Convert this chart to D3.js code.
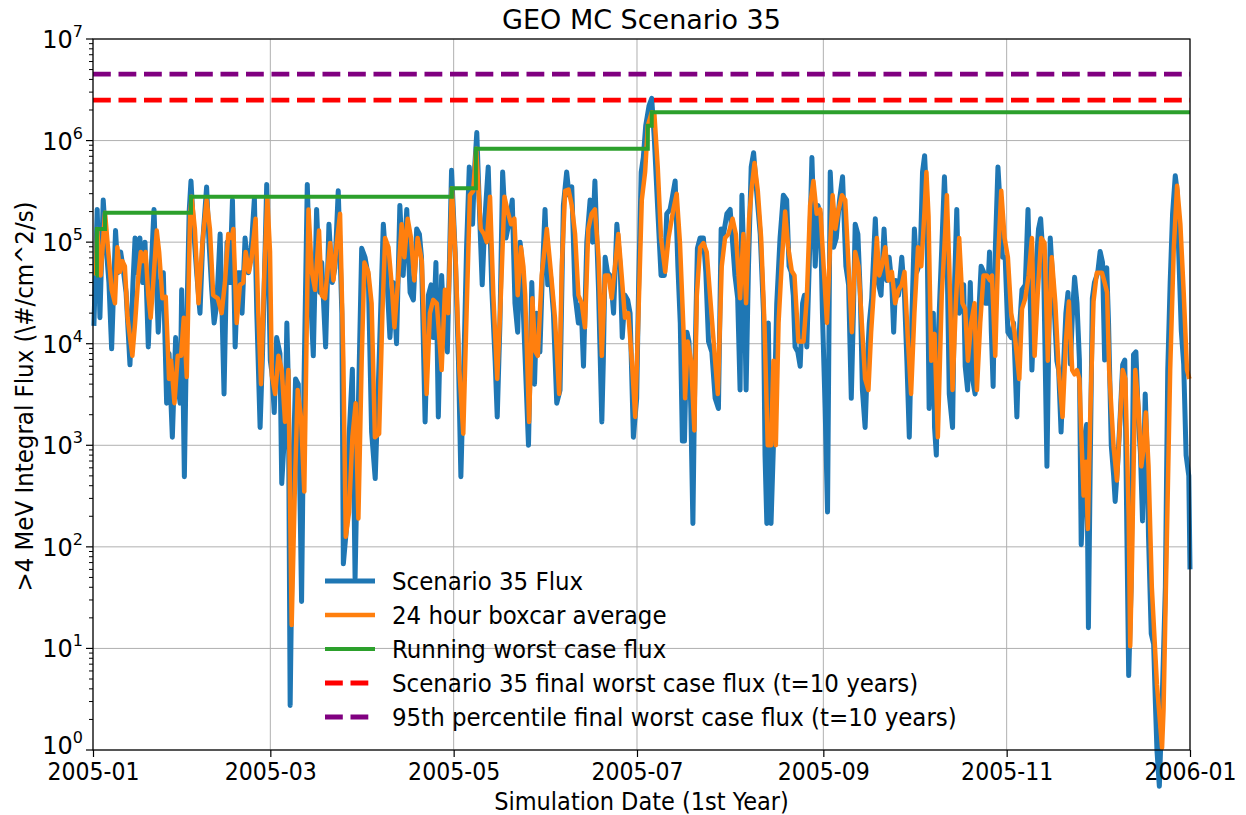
<!DOCTYPE html>
<html>
<head>
<meta charset="utf-8">
<script src="https://cdn.jsdelivr.net/npm/d3@7"></script>
<style>
  html, body { margin: 0; padding: 0; background: #fff; }
  svg { display: block; }
  .lbl { font-family: 'DejaVu Sans Condensed', 'DejaVu Sans', sans-serif; font-stretch: condensed; fill: #000; }
</style>
</head>
<body>
<svg id="chart" width="1246" height="815"></svg>
<script>
// ---------------- DATA ----------------
const titleText = "GEO MC Scenario 35";
const xLabel = "Simulation Date (1st Year)";
const yLabel = ">4 MeV Integral Flux (\\#/cm^2/s)";
const xTickLabels = ["2005-01", "2005-03", "2005-05", "2005-07", "2005-09", "2005-11", "2006-01"];
const yTickExponents = [0, 1, 2, 3, 4, 5, 6, 7];
const seriesNames = ["Scenario 35 Flux", "24 hour boxcar average", "Running worst case flux",
  "Scenario 35 final worst case flux (t=10 years)", "95th percentile final worst case flux (t=10 years)"];

// days since 2005-01-01
const blueDay = [0.3,1.4,2.3,3.4,4.5,5.3,6.2,7.5,8.3,9.2,10,11,12.3,13.3,14,14.8,15.6,16.5,17.3,18.4,19.3,20.3,21,21.7,22.5,23.4,24.5,25.3,26.4,27.5,28.2,29,29.5,30.4,31.2,32,32.6,33.5,34.5,35.6,36.5,37.8,38.6,39.5,40.3,41.2,42.3,43.6,44.6,45.5,46.4,47.3,48.2,49,49.6,50.6,51.7,52.8,53.7,54.5,55.6,56.4,57.8,59,59.6,60.3,61.1,62.2,62.8,63.9,64.5,65,65.6,66.6,67.4,68.3,69.4,70.2,71.3,72.2,73.3,74.4,75.5,76.1,77.4,78.5,79.6,80.5,81.6,82.8,83.3,84.4,85.2,86.3,87.2,88.3,89.4,90.5,91.6,92.7,93.9,95.2,96.6,97.6,98.8,99.9,101,102.1,103.2,104.4,105.5,106.6,107.7,108.6,109.3,110.5,111.6,112.5,113.2,114.1,114.9,116,116.8,117.9,119.3,120.5,121.6,122.4,123.6,124.3,125.2,126.3,126.9,127.7,128.8,129.5,130.4,131.5,132.7,133.8,134.5,135.4,136.3,137.4,138.5,139.5,140.4,141.3,142.1,142.6,143.2,144.9,146,146.9,147.6,148.7,149.5,150.4,151.3,152.1,153.2,154.3,155.4,156.5,157.6,158.4,159.3,160.4,161.5,162.4,163.2,164.3,165.4,166.2,167,168.2,169.3,169.8,170.4,171.2,172,172.6,173.2,174.3,175.4,176.1,177,177.9,178.7,179.8,180.9,181.5,182.4,183.1,183.9,185,185.9,186.8,187.9,189,190.1,190.9,192,192.6,193.7,194.6,195.4,196.1,196.8,197.6,198.3,198.9,199.6,200.3,201.1,202,203.1,203.9,204.8,205.9,207,208.1,209,209.8,210.9,212,212.7,213.6,214.5,215.3,215.9,216.6,217.3,218.1,219,219.8,220.9,222,223.1,223.6,224.2,224.7,225.6,226.4,227.5,228.6,229.7,230.8,231.6,232.3,233,233.6,234.5,235.3,236.1,236.7,237.5,238.3,239.2,240.3,241.2,242,242.7,243.6,244.4,245.3,246.4,247.3,248.4,249.4,250.5,251.4,252.3,253,253.6,254.5,255.3,256,256.9,257.8,258.3,259.1,260.3,261.1,262.2,263.2,264.1,264.9,265.8,266.4,267.1,268,269.1,270,270.8,271.6,272.5,273.3,274.1,275.2,276,276.7,277.4,278.2,279,279.6,280,280.6,281.3,282.4,283.3,284.1,284.9,286,286.7,287.4,288.2,288.9,289.7,290.2,291,291.9,292.7,293.5,294.4,295.5,296.3,296.9,297.5,298.3,298.9,299.5,300.2,301.1,301.9,302.6,303.5,304.4,305.5,306.3,307.4,308.2,309.1,310.2,311.1,311.8,312.4,313.5,314.6,315.3,316.3,317.4,318.5,319.6,320.7,321.3,322.1,323,323.7,324.4,325.2,325.9,326.6,327.4,328.2,328.8,329.5,330.1,330.6,331.2,331.8,332.5,333.2,334.3,335.1,335.9,336.6,337.3,337.9,338.8,339.6,340.1,340.9,341.8,342.6,343.3,344,344.6,345.4,346.2,347,347.9,348.5,349.2,350.1,350.7,351.2,352.1,352.9,353.5,354,354.8,355.7,356.8,357.6,358.4,359.2,360.1,360.7,361.2,362.1,362.9,363.7,364.6,365];
const blueFlux = [1.5e4,2.1e5,1.8e4,2.6e5,8e4,4e4,8.9e3,1.3e5,5e4,8e4,5.6e4,3.2e4,6.2e3,4e4,1.1e5,5e4,1.1e5,4e4,1e5,9.3e3,5e4,2.1e5,5e4,1.3e4,4e4,5e4,2.6e3,8e3,1.2e3,1.15e4,4e3,2.6e3,3.4e4,490,1.6e4,2e5,4e5,1.3e5,5e4,2e4,1e5,3.5e5,1e5,3.4e4,1.6e4,2.5e4,1.2e5,3.2e3,1e5,4e4,2.6e5,9.3e3,5e4,5e4,2e4,1.1e5,5e4,1e5,2.7e5,2e4,1.5e3,8e3,3.7e5,6.8e3,5e3,2.1e3,1.15e4,8e3,420,1.6e3,1.6e4,4e3,2.75,630,4.5e3,4e3,29,4e3,3.7e5,4e4,7.6e3,2.1e5,3.2e4,6.3e4,9.3e3,1.5e5,4e4,5.6e4,3.2e5,2e4,68,160,1.2e3,5.6e3,49,2.5e3,8.7e4,7.1e4,4.6e4,1.35e3,470,6.8e3,1.5e5,5.6e4,1.15e4,4e4,1e4,2.3e5,4.7e4,2.1e5,3.2e4,2.7e4,1.35e5,1.2e5,7.1e4,1.7e3,3e4,3.8e4,1.15e4,6.3e4,1.9e3,4.7e4,1.3e4,8.3e3,5.1e5,8e4,6.8e3,490,1.15e4,8.9e4,5.5e5,1.5e5,4.9e5,1.2e6,1.35e5,3.8e4,1.7e5,5.5e5,3.4e4,6.8e3,1.9e3,1.6e4,4.9e5,1.1e5,1.6e5,2.6e5,2.5e4,1.3e4,1e5,7.1e4,2e4,1e3,4e4,4e3,2e4,8.3e3,4.7e4,2.1e5,3.8e4,5.2e4,2e4,2.6e3,3.5e3,2.3e5,4.9e5,2.9e5,3.5e5,3e4,1.6e4,2.5e4,6e3,1e5,2.6e5,1e5,4e5,3.4e4,1.7e3,6.8e3,7.1e4,5e4,4.7e4,3.4e4,2e4,1.5e5,5.8e4,1.15e4,3e4,2.7e4,2e4,1.2e3,2.9e3,3.2e4,4.9e5,6.8e5,1.4e6,2.2e6,2.6e6,1e6,2.1e5,4.7e4,4.7e4,1.9e5,2.1e5,2.6e5,4e5,5.8e4,1.6e4,1.1e3,1.1e3,1.3e4,1.05e4,2.3e3,170,6.8e3,8.7e4,1.1e5,1.1e5,5.1e4,1.05e4,8.3e3,2.9e3,2.3e3,1.35e5,1.2e5,1.9e5,2.1e5,1.1e5,4.7e4,2.8e4,3.5e3,2.9e5,5.8e4,3.5e3,5.8e4,5.5e5,7.6e5,2.9e5,1.2e5,2e4,800,170,1.6e4,170,1e3,2.5e4,1.1e5,2.9e5,2.6e5,5.8e4,5.1e4,3e4,9.3e3,8.3e3,6e3,2.5e4,3e4,9.3e3,5.8e4,6.8e5,5.8e4,2.3e5,1.9e5,2e4,2.3e3,220,4.9e5,8.9e4,1.1e5,2.6e5,4.4e5,5.8e4,3.8e4,2.9e3,2e4,1.5e5,1.2e5,3e4,3.5e3,1.5e3,8.3e3,1.6e4,2.8e4,1.7e5,4.2e4,3e4,1.35e5,4.2e4,7.1e4,3.8e4,1.3e4,4.2e4,3e4,7.1e4,3e4,6.8e3,1.2e3,2e4,1.35e5,5.1e4,6.3e4,4.9e5,7.1e5,2.6e5,2.3e3,6.8e3,2e4,1.5e3,800,1.3e4,8.7e4,4.4e5,9.8e4,3.2e3,1.5e3,4.2e4,2.1e5,2e4,2.5e4,3.8e4,6e3,3.5e3,4e4,4.4e3,3.2e3,1.3e4,5.8e4,5.1e4,2.5e4,2.5e4,8e4,1.3e4,3.8e3,8e4,5.5e5,2.1e5,7.1e4,7.1e4,1.3e4,1.15e4,1.6e4,1.9e3,1.3e4,3.4e4,3.8e4,2.1e5,3e4,5.5e3,4.2e4,1.35e5,1.7e5,5.8e4,620,1.1e5,3e4,6.8e3,5.5e3,1.35e3,6.8e3,2e4,3.2e4,6.3e3,2e4,4.5e4,2.5e4,6.9e3,105,320,1.3e3,1.6e3,16,630,2.8e4,4e4,5e4,8.1e4,6.3e4,6.9e3,5.6e4,1.6e4,1e3,500,280,630,2e3,6.2e3,6.9e3,135,5.4,40,7.8e3,8.3e3,1.6e3,850,180,3.2e3,850,126,14,11,2.8,1,0.44,2.8,40,5.5e3,4e4,1.9e5,4.5e5,3.2e5,8.7e4,1.35e4,6.3e3,800,500,60];

const orangeDay = [1,1.4,2,2.55,4,5.1,6.2,7.3,8.1,9,9.8,10.6,11.5,13.1,14,15.1,15.9,16.7,17.5,18.4,19.2,20.1,21.2,22,23.1,24.2,25.3,26,27.1,28.2,29.3,30.2,31.2,32.3,32.8,33.9,35.1,36.4,37.8,38.9,40,41.5,42.8,43.9,45,46.1,46.7,47.8,48.9,50,50.8,51.9,52.8,54.1,55,55.9,57,58,58.9,59.5,60.6,61.7,62.8,63.9,65,66.1,67.2,68.1,69.2,70.3,71.7,72.8,73.9,75.2,76.1,77.2,78.9,80,81.1,82.2,83.3,84.1,85.2,86.3,87.4,88.3,89.4,90.3,91.6,92.7,93.8,95.2,96.3,97.2,98.3,99.4,100.3,101.4,102.7,103.6,104.7,105.8,106.9,108,109.4,111,112.1,113.2,114.4,116,117.1,118.2,119.4,120.7,121.9,123.2,124.3,125.4,126.5,127.5,129,130.1,131,132.1,133.2,134.5,135.6,136.9,138,139.1,140.2,141.3,142.4,143.2,143.8,145.1,146.2,147.1,148,149.3,151,152.6,153.7,155.1,156,157.1,158.2,159.3,160.4,161.5,162.6,163.7,164.8,165.9,167,168.2,169.3,170.4,171.5,172.6,173.7,174.8,175.9,177,178.1,179.3,180.4,181.5,182.6,183.7,184.6,185.9,186.8,187.9,189,190.4,191.5,193.1,194.2,195.3,196.5,197,197.9,199,200.1,200.9,202,203.1,204.2,205.3,207,207.9,209.2,210.3,211.4,212.8,213.9,215.3,216.4,217.3,218.3,219.2,220.1,221.2,222.3,223.4,224.5,225.6,226.4,227.2,228.1,229.2,230.3,231.3,232.5,233.4,234.7,236.4,237.5,238.6,239.7,240.8,242,243.1,244.2,245.3,246.1,247,248.1,249.2,250.3,251.4,252.5,253.6,254.7,255.8,256.9,258,258.9,259.7,260.8,261.6,262.5,263.6,264.7,265.8,266.9,268,269.1,270,271.1,272.2,273.3,274.5,275.6,276.7,277.3,278,278.9,280,281.1,282.4,283.6,284.1,284.9,286,287.1,288.2,289.3,290.2,291.1,292.2,293.3,294.1,295.2,296.3,297.4,298.5,299.1,300.2,301.1,302.2,303.3,304.4,305.5,306.6,308.2,309.1,310.2,311.3,312.4,313.3,314.4,315.5,316.6,317.7,319,320.2,321.3,322.6,323.7,324.7,325.8,326.6,327.4,328.2,329,329.6,330.4,331,331.8,332.9,334,334.6,335.7,336.6,337.4,338.1,339.6,340.7,341.8,342.6,343.5,344.6,345.1,345.7,346.8,347.9,348.8,349.6,350.3,351.2,352.3,354,355.7,356.2,357.3,358.4,359.6,360.7,361.8,362.9,364,364.8];
const orangeFlux = [4.7e4,1.35e5,7.1e4,4.7e4,1.95e5,8e4,3.4e4,2.5e4,8.9e4,5.1e4,6.5e4,5.8e4,1.8e4,7.6e3,1.6e4,4.7e4,8e4,6.5e4,8e4,3e4,1.8e4,4.2e4,1.3e5,8e4,2.8e4,2.9e4,4.5e3,6.8e3,2.6e3,7.6e3,7.6e3,1.8e4,4.7e3,1.8e5,2.8e5,1.35e5,2.5e4,9.8e4,2.6e5,1.35e5,3e4,2.8e4,2e4,4e4,1.2e5,1.1e5,1.35e5,1.6e4,3.8e4,4e4,8e4,5.1e4,7.1e4,1.7e5,2e4,4e3,4.7e4,2.7e5,8e4,4.9e3,3.2e3,7.6e3,5.5e3,1.7e3,5.5e3,17,420,3.5e3,1.9e3,350,2.1e5,5.1e4,3.4e4,1.3e5,3e4,2.8e4,9.8e4,4.2e4,9.8e4,1.9e5,6.8e3,126,220,1.2e3,2.6e3,190,6.8e3,6.3e4,5.1e4,2.5e4,1.2e3,1.3e3,2e4,1.1e5,8.9e4,3.8e4,1.45e4,3.8e4,1.5e5,7.1e4,1.7e5,1.1e5,4.2e4,1.1e5,6.5e4,3.2e3,2e4,2.7e4,2.5e4,5.5e3,3.4e4,2e4,3.4e5,6.3e4,5.5e3,1.3e3,2e4,2.9e5,3.2e5,8.3e5,1.35e5,1.2e5,1e5,2.8e5,3e4,4.5e3,2.5e4,2.8e5,2e5,1.5e5,1.7e5,3e4,8.9e4,5.8e4,3e4,1.7e3,2.8e4,8.5e3,7.6e3,4.7e4,1.35e5,4.2e4,1.8e4,3.2e3,5.8e4,3.2e5,3.3e5,2.3e5,1.2e5,3e4,2.5e4,1.45e4,1.35e5,1.9e5,2.1e5,7.1e4,7.6e3,4.7e4,4.7e4,2.8e4,5.8e4,1.2e5,4.7e4,1.8e4,2e4,6.8e3,1.9e3,2e4,2.6e5,4.9e5,1.4e6,1.9e6,1.8e6,5.5e5,1.1e5,5.1e4,1.1e5,2.1e5,3e5,9.8e4,1.3e4,2.9e3,1.05e4,6.8e3,1.4e3,3e4,8.9e4,9.8e4,8e4,3e4,6.8e3,3.2e3,5.8e4,1.1e5,1.2e5,1.7e5,1.2e5,2.8e4,1.2e5,2.5e4,1.7e5,3.5e5,6e5,3.2e5,1.1e5,1.6e4,1e3,1e3,6.8e3,1e3,1.6e4,6.5e4,2e5,8.9e4,5.2e4,4.7e4,1.05e4,1.05e4,2.8e4,2.3e5,4e5,1.9e5,2.1e5,5.8e4,1.6e4,9.8e4,2.9e5,1.35e5,2.1e5,2.9e5,2.6e5,5.8e4,1.3e4,8e4,5.8e4,1.6e4,4.5e3,3.5e3,1.3e4,3e4,1.1e5,4.7e4,5.8e4,8.9e4,4.2e4,5.1e4,2.5e4,3.4e4,3.8e4,5.1e4,1.15e4,3.2e3,2e4,8.9e4,5.8e4,2.1e5,4.9e5,1.8e5,6.8e3,1.25e4,1.2e3,3e4,1.35e5,2.9e5,5.8e4,3.5e3,2.5e4,1.1e5,2.5e4,2.2e4,6.8e3,1.6e4,2.5e4,3.5e3,1.6e4,4.7e4,4.7e4,4.2e4,4.7e4,7.6e3,6.5e4,3.2e5,1.1e5,7.1e4,2e4,1.3e4,4.5e3,2.2e4,2.8e4,4.7e4,1.1e5,7.6e3,3.4e4,1.1e5,9.8e4,6.8e3,7.1e4,2.5e4,5.5e3,1.9e3,1.05e4,2.6e4,5.5e3,5e3,5.5e3,4.5e3,950,320,690,150,1.9e3,2.6e4,5e4,5e4,5e4,4e4,3.2e4,5.5e3,950,450,1.9e3,5.5e3,4.5e3,200,10.5,70,5.5e3,2.3e3,620,950,2.1e3,620,40,4.4,1.05,2.5,120,5.5e3,8.7e4,3.6e5,1.5e5,3.2e4,5.5e3,4.5e3];

const greenDay = [1, 1.3, 4.0, 32.6, 119.4, 127.4, 184.6, 185.9, 365];
const greenFlux = [4.7e4, 1.35e5, 1.95e5, 2.8e5, 3.4e5, 8.3e5, 1.4e6, 1.9e6, 1.9e6];

const scenarioFinalWorst = 2.5e6;
const percentile95Worst = 4.5e6;

// ---------------- CHART ----------------
const M = { left: 93, right: 1190, top: 39, bottom: 750 };
const svg = d3.select("#chart");
const t0 = Date.UTC(2005, 0, 1), DAY = 86400000;
const toDate = d => new Date(t0 + d * DAY);

const x = d3.scaleUtc().domain([toDate(0), new Date(Date.UTC(2006, 0, 1))]).range([M.left, M.right]);
const y = d3.scaleLog().domain([1, 1e7]).range([M.bottom, M.top]);

const xTicks = xTickLabels.map(s => new Date(Date.UTC(+s.slice(0, 4), +s.slice(5) - 1, 1)));

// grid
const grid = svg.append("g");
grid.selectAll("line.gx").data(xTicks).enter().append("line")
  .attr("x1", d => x(d)).attr("x2", d => x(d)).attr("y1", M.top).attr("y2", M.bottom)
  .attr("stroke", "#b0b0b0").attr("stroke-width", 1);
grid.selectAll("line.gy").data(yTickExponents).enter().append("line")
  .attr("x1", M.left).attr("x2", M.right).attr("y1", e => y(Math.pow(10, e))).attr("y2", e => y(Math.pow(10, e)))
  .attr("stroke", "#b0b0b0").attr("stroke-width", 1);

// lines
const line = d3.line().x(d => x(toDate(d[0]))).y(d => y(d[1]));
const stepLine = d3.line().x(d => x(toDate(d[0]))).y(d => y(d[1])).curve(d3.curveStepAfter);
const blue = blueDay.map((d, i) => [d, blueFlux[i]]);
const orange = orangeDay.map((d, i) => [d, orangeFlux[i]]);
const green = greenDay.map((d, i) => [d, greenFlux[i]]);

svg.append("path").datum(blue).attr("d", line).attr("fill", "none")
  .attr("stroke", "#1f77b4").attr("stroke-width", 5).attr("stroke-linejoin", "round");
svg.append("path").datum(orange).attr("d", line).attr("fill", "none")
  .attr("stroke", "#ff7f0e").attr("stroke-width", 4.5).attr("stroke-linejoin", "round");
svg.append("path").datum(green).attr("d", stepLine).attr("fill", "none")
  .attr("stroke", "#2ca02c").attr("stroke-width", 4);

const hl = [[scenarioFinalWorst, "#ff0000"], [percentile95Worst, "#800080"]];
svg.selectAll("line.hl").data(hl).enter().append("line")
  .attr("x1", M.left).attr("x2", M.right).attr("y1", d => y(d[0])).attr("y2", d => y(d[0]))
  .attr("stroke", d => d[1]).attr("stroke-width", 4.8).attr("stroke-dasharray", "17.8,7.7");

// spines
svg.append("rect").attr("x", M.left).attr("y", M.top).attr("width", M.right - M.left).attr("height", M.bottom - M.top)
  .attr("fill", "none").attr("stroke", "#000").attr("stroke-width", 1.2);

// x axis
const xAxis = d3.axisBottom(x).tickValues(xTicks).tickSize(7).tickPadding(4)
  .tickFormat((d, i) => xTickLabels[i]);
const gx = svg.append("g").attr("transform", `translate(0,${M.bottom})`).call(xAxis);
gx.select(".domain").remove();
gx.selectAll(".tick line").attr("stroke", "#000").attr("stroke-width", 1.2);
gx.selectAll(".tick text").attr("class", "lbl").attr("font-size", 24.5).attr("dy", null).attr("y", 30);

// y axis ticks (major + minor)
const minor = [];
for (let e = 0; e < 7; e++) for (let m = 2; m <= 9; m++) minor.push(m * Math.pow(10, e));
svg.selectAll("line.ymin").data(minor).enter().append("line")
  .attr("x1", M.left - 4).attr("x2", M.left).attr("y1", d => y(d)).attr("y2", d => y(d))
  .attr("stroke", "#000").attr("stroke-width", 1);
svg.selectAll("line.ymaj").data(yTickExponents).enter().append("line")
  .attr("x1", M.left - 7).attr("x2", M.left).attr("y1", e => y(Math.pow(10, e))).attr("y2", e => y(Math.pow(10, e)))
  .attr("stroke", "#000").attr("stroke-width", 1.2);
const yt = svg.selectAll("text.yt").data(yTickExponents).enter().append("text")
  .attr("x", M.left - 10).attr("y", e => y(Math.pow(10, e)) + (e === 0 ? 4 : 9))
  .attr("text-anchor", "end").attr("font-family", "'DejaVu Sans', sans-serif").attr("font-size", 24);
yt.append("tspan").text("10");
yt.append("tspan").attr("dy", -11).attr("font-size", 16).text(e => e);

// title and labels
svg.append("text").attr("x", (M.left + M.right) / 2).attr("y", 29).attr("text-anchor", "middle")
  .attr("font-family", "'DejaVu Sans', sans-serif").attr("font-size", 27).text(titleText);
svg.append("text").attr("class", "lbl").attr("x", (M.left + M.right) / 2).attr("y", 810)
  .attr("text-anchor", "middle").attr("font-size", 25).text(xLabel);
svg.append("text").attr("class", "lbl").attr("transform", `translate(33,${(M.top + M.bottom) / 2 + 2}) rotate(-90)`)
  .attr("text-anchor", "middle").attr("font-size", 25.5).text(yLabel);

// legend (no frame)
const legColors = ["#1f77b4", "#ff7f0e", "#2ca02c", "#ff0000", "#800080"];
const legDash = [null, null, null, "17.8,7.7", "17.8,7.7"];
const legWidth = [5, 4.5, 4, 4.8, 4.8];
const lg = svg.append("g");
seriesNames.forEach((name, i) => {
  const yy = 581 + i * 34;
  lg.append("line").attr("x1", 325).attr("x2", 375).attr("y1", yy).attr("y2", yy)
    .attr("stroke", legColors[i]).attr("stroke-width", legWidth[i])
    .attr("stroke-dasharray", legDash[i]);
  lg.append("text").attr("class", "lbl").attr("x", 392).attr("y", yy + 9).attr("font-size", 25.5).text(name);
});
</script>
</body>
</html>
